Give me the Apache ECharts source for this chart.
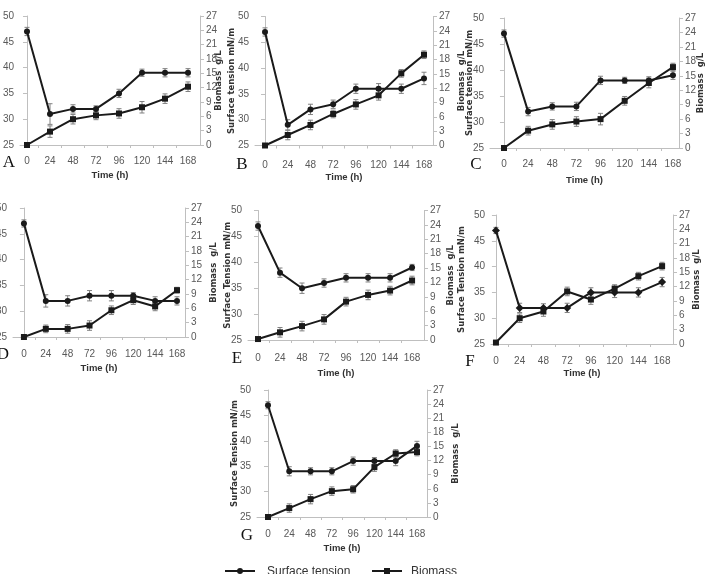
<!DOCTYPE html>
<html>
<head>
<meta charset="utf-8">
<script src="https://cdn.jsdelivr.net/npm/echarts@6/dist/echarts.min.js"></script>
<style>html,body{margin:0;padding:0;background:#fff;}#c{width:705px;height:574px;}</style>
</head>
<body>
<div id="c"></div>
<script>
// ---- data ----
const hours = [0, 24, 48, 72, 96, 120, 144, 168];
const xTickLabels = ['0', '24', '48', '72', '96', '120', '144', '168'];
const panelNames = ['A', 'B', 'C', 'D', 'E', 'F', 'G'];

const stA = [47, 31, 32, 32, 35, 39, 39, 39];
const bmA = [0, 2.8, 5.4, 6.2, 6.6, 7.9, 9.7, 12.2];
const stB = [47, 29, 32, 33, 36, 36, 36, 38];
const bmB = [0, 2.2, 4.3, 6.6, 8.6, 10.5, 15.1, 19.0];
const stC = [47, 32, 33, 33, 38, 38, 38, 39];
const bmC = [0, 3.6, 4.9, 5.5, 6.0, 9.8, 13.5, 16.8];
const stD = [47, 32, 32, 33, 33, 33, 32, 32];
const bmD = [0, 1.7, 1.7, 2.4, 5.6, 7.7, 6.4, 9.8];
const stE = [47, 38, 35, 36, 37, 37, 37, 39];
const bmE = [0.2, 1.6, 2.9, 4.3, 8.0, 9.4, 10.3, 12.4];
const stF = [47, 32, 32, 32, 35, 35, 35, 37];
const bmF = [0.3, 5.4, 6.8, 11.0, 9.3, 11.6, 14.2, 16.3];
const stG = [47, 34, 34, 34, 36, 36, 36, 39];
const bmG = [0, 1.9, 3.8, 5.5, 5.9, 10.6, 13.5, 13.8];

// error bar half-widths (estimated)
const stErrA = [0.8, 2.0, 0.8, 0.6, 0.8, 0.7, 0.8, 0.8];
const bmErrA = [0.2, 1.2, 1.0, 0.9, 1.0, 1.2, 1.0, 1.0];
const stErrB = [0.8, 1.0, 1.0, 0.8, 0.9, 1.0, 0.9, 1.2];
const bmErrB = [0.2, 1.0, 1.0, 0.8, 1.0, 1.0, 0.8, 0.8];
const stErrC = [0.7, 0.8, 0.7, 0.8, 0.8, 0.6, 0.7, 0.8];
const bmErrC = [0.3, 0.9, 1.0, 1.0, 1.2, 0.9, 1.0, 0.8];
const stErrD = [0.7, 1.2, 1.0, 1.0, 1.0, 0.6, 0.8, 0.8];
const bmErrD = [0.2, 0.8, 0.9, 1.0, 0.9, 0.9, 0.9, 0.6];
const stErrE = [0.8, 0.9, 1.0, 0.8, 0.8, 0.8, 0.8, 0.6];
const bmErrE = [0.2, 1.0, 1.0, 1.0, 0.9, 1.0, 0.9, 0.9];
const stErrF = [0.6, 0.9, 0.8, 0.9, 0.9, 1.0, 0.9, 0.9];
const bmErrF = [0.3, 0.9, 1.0, 0.9, 1.0, 0.8, 0.8, 0.8];
const stErrG = [0.7, 0.9, 0.7, 0.7, 0.8, 0.7, 0.9, 0.9];
const bmErrG = [0.2, 0.9, 1.0, 0.9, 0.8, 0.9, 0.8, 0.8];

const stTitles = ['', 'Surface tension mN/m', 'Surface tension mN/m', '', 'Surface Tension mN/m', 'Surface Tension mN/m', 'Surface Tension mN/m'];
const bmTitle = 'Biomass  g/L';
const xTitle = 'Time (h)';
const stName = 'Surface tension';
const bmName = 'Biomass';

const stSets = [stA, stB, stC, stD, stE, stF, stG];
const bmSets = [bmA, bmB, bmC, bmD, bmE, bmF, bmG];
const stErrSets = [stErrA, stErrB, stErrC, stErrD, stErrE, stErrF, stErrG];
const bmErrSets = [bmErrA, bmErrB, bmErrC, bmErrD, bmErrE, bmErrF, bmErrG];

// ---- layout (pixel geometry per panel) ----
const layout = [
  {L: 20,  R: 200, T: 16,  B: 145, xmin: -7.3,  xmax: 180.5, lm: 11, tg: 25, lg: 20, rg: 14, letter: [9, 163],   sym: 'circle'},
  {L: 255, R: 433, T: 16.5, B: 145.5, xmin: -10.6, xmax: 177.5, lm: 15, tg: 27, lg: 19, rg: 24, letter: [242, 165], sym: 'circle'},
  {L: 490, R: 679, T: 18,  B: 148, xmin: -13.9, xmax: 174,   lm: 11, tg: 27, lg: 16, rg: 17, letter: [476, 165], sym: 'circle'},
  {L: 13,  R: 185, T: 208, B: 337, xmin: -12,   xmax: 176.8, lm: 12, tg: 26, lg: 20, rg: 24, letter: [3, 355],   sym: 'circle'},
  {L: 248, R: 424, T: 210.5, B: 340, xmin: -10.9, xmax: 181, lm: 13, tg: 28, lg: 16, rg: 22, letter: [237, 359], sym: 'circle'},
  {L: 491, R: 673, T: 215, B: 344, xmin: -5,    xmax: 179,   lm: 12, tg: 24, lg: 25, rg: 19, letter: [470, 362], sym: 'diamond'},
  {L: 257, R: 427, T: 390, B: 517, xmin: -12.4, xmax: 179.3, lm: 12, tg: 26, lg: 18, rg: 24, letter: [247, 536], sym: 'circle'}
];

const tickFont = "'Liberation Sans Narrow', 'Liberation Sans', Arial, sans-serif";
const titleFont = "'DejaVu Sans', 'Liberation Sans', sans-serif";
const axisColor = '#bfbfbf';
const labelColor = '#595959';
const lineColor = '#1a1a1a';

const grids = [], xAxes = [], yAxes = [], series = [], graphics = [];

function errRender(params, api) {
  const x = api.value(0), lo = api.value(1), hi = api.value(2);
  const p1 = api.coord([x, lo]), p2 = api.coord([x, hi]);
  const w = 2.5, st = {stroke: '#808080', lineWidth: 1};
  return {type: 'group', children: [
    {type: 'line', shape: {x1: p1[0], y1: p1[1], x2: p2[0], y2: p2[1]}, style: st},
    {type: 'line', shape: {x1: p1[0] - w, y1: p1[1], x2: p1[0] + w, y2: p1[1]}, style: st},
    {type: 'line', shape: {x1: p2[0] - w, y1: p2[1], x2: p2[0] + w, y2: p2[1]}, style: st}
  ]};
}

layout.forEach((g, i) => {
  grids.push({left: g.L, top: g.T, width: g.R - g.L, height: g.B - g.T, containLabel: false, outerBoundsMode: 'none'});
  xAxes.push({
    type: 'value', gridIndex: i, min: g.xmin, max: g.xmax,
    name: xTitle, nameLocation: 'middle', nameGap: g.tg, nameMoveOverlap: false,
    nameTextStyle: {fontFamily: tickFont, fontWeight: 'bold', fontSize: 9.5, color: '#333'},
    axisLine: {show: true, onZero: false, lineStyle: {color: axisColor}},
    axisTick: {show: true, length: 3, lineStyle: {color: axisColor}, customValues: [12, 36, 60, 84, 108, 132, 156]},
    axisLabel: {customValues: hours, formatter: v => xTickLabels[hours.indexOf(v)] ?? '', margin: g.lm,
      fontFamily: tickFont, fontSize: 10, color: labelColor},
    splitLine: {show: false}
  });
  yAxes.push({
    type: 'value', gridIndex: i, position: 'left', min: 25, max: 50, interval: 5,
    name: stTitles[i], nameLocation: 'middle', nameGap: g.lg, nameMoveOverlap: false,
    nameTextStyle: {fontFamily: titleFont, fontWeight: 'bold', fontSize: 8.5, color: '#333'},
    axisLine: {show: true, lineStyle: {color: axisColor}},
    axisTick: {show: true, length: 4, lineStyle: {color: axisColor}},
    axisLabel: {margin: 6, fontFamily: tickFont, fontSize: 10, color: labelColor},
    splitLine: {show: false}
  });
  yAxes.push({
    type: 'value', gridIndex: i, position: 'right', min: 0, max: 27, interval: 3,
    name: bmTitle, nameLocation: 'middle', nameGap: g.rg, nameMoveOverlap: false,
    nameTextStyle: {fontFamily: titleFont, fontWeight: 'bold', fontSize: 8.5, color: '#333'},
    axisLine: {show: true, lineStyle: {color: axisColor}},
    axisTick: {show: true, length: 4, lineStyle: {color: axisColor}},
    axisLabel: {margin: 6, fontFamily: tickFont, fontSize: 10, color: labelColor},
    splitLine: {show: false}
  });
  const yL = 2 * i, yR = 2 * i + 1;
  const st = stSets[i], bm = bmSets[i], se = stErrSets[i], be = bmErrSets[i];
  series.push({
    type: 'custom', xAxisIndex: i, yAxisIndex: yL, z: 1, silent: true,
    renderItem: errRender, encode: {x: 0, y: [1, 2]},
    data: hours.map((h, k) => [h, st[k] - se[k], st[k] + se[k]])
  });
  series.push({
    type: 'custom', xAxisIndex: i, yAxisIndex: yR, z: 1, silent: true,
    renderItem: errRender, encode: {x: 0, y: [1, 2]},
    data: hours.map((h, k) => [h, bm[k] - be[k], bm[k] + be[k]])
  });
  series.push({
    name: stName, type: 'line', xAxisIndex: i, yAxisIndex: yL, z: 3,
    data: hours.map((h, k) => [h, st[k]]),
    symbol: g.sym, symbolSize: g.sym === 'diamond' ? 8 : 6,
    lineStyle: {color: lineColor, width: 2}, itemStyle: {color: lineColor},
    animation: false
  });
  series.push({
    name: bmName, type: 'line', xAxisIndex: i, yAxisIndex: yR, z: 3,
    data: hours.map((h, k) => [h, bm[k]]),
    symbol: 'rect', symbolSize: 6,
    lineStyle: {color: lineColor, width: 2}, itemStyle: {color: lineColor},
    animation: false
  });
  graphics.push({
    type: 'text', x: g.letter[0], y: g.letter[1],
    style: {text: panelNames[i], font: "17px 'Liberation Serif', 'DejaVu Serif', serif", fill: '#111',
      align: 'center', verticalAlign: 'middle'}
  });
});

// ---- legend (drawn as graphic elements) ----
const legFont = "12px 'Liberation Sans', Arial, sans-serif";
const legY = 571;
graphics.push(
  {type: 'line', shape: {x1: 225, y1: legY, x2: 255, y2: legY}, style: {stroke: lineColor, lineWidth: 2}},
  {type: 'circle', shape: {cx: 240, cy: legY, r: 3}, style: {fill: lineColor}},
  {type: 'text', x: 267, y: legY + 1, style: {text: stName, font: legFont, fill: '#333', verticalAlign: 'middle'}},
  {type: 'line', shape: {x1: 372, y1: legY, x2: 402, y2: legY}, style: {stroke: lineColor, lineWidth: 2}},
  {type: 'rect', shape: {x: 384, y: legY - 3, width: 6, height: 6}, style: {fill: lineColor}},
  {type: 'text', x: 411, y: legY + 1, style: {text: bmName, font: legFont, fill: '#333', verticalAlign: 'middle'}}
);

const chart = echarts.init(document.getElementById('c'), null, {renderer: 'canvas'});
chart.setOption({
  animation: false,
  backgroundColor: '#fff',
  grid: grids, xAxis: xAxes, yAxis: yAxes, series: series,
  graphic: graphics
});
</script>
</body>
</html>
